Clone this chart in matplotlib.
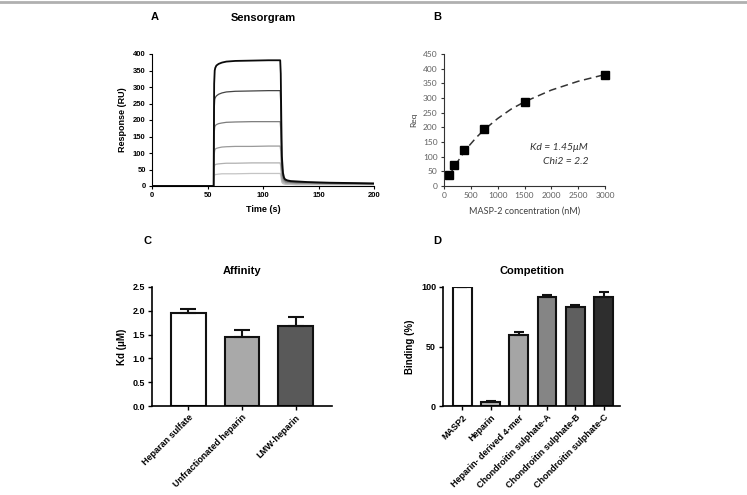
import matplotlib.pyplot as plt
from matplotlib.lines import Line2D

# panel A: sensorgram (read by eye)
time_s = [0, 55.5, 56, 56.5, 57, 58, 60, 63, 67, 75, 90, 105, 115.5, 116,
          116.5, 117, 118, 119, 120, 122, 125, 130, 140, 160, 180, 200]
resp_1 = [0, 0, 310, 350, 358, 365, 370, 374, 377, 379, 380, 381, 381, 340,
          200, 90, 40, 25, 20, 17, 15, 14, 12, 10, 9, 8]
resp_2 = [0, 0, 230, 262, 268, 273, 278, 282, 285, 287, 288, 289, 289, 250,
          150, 70, 32, 22, 18, 15, 13, 12, 11, 9, 8, 7]
resp_3 = [0, 0, 160, 178, 183, 186, 189, 191, 193, 194, 195, 195, 195, 170,
          100, 50, 25, 17, 14, 12, 11, 10, 9, 8, 7, 6]
resp_4 = [0, 0, 95, 108, 112, 114, 116, 118, 119, 120, 120, 121, 121, 105,
          60, 30, 17, 13, 11, 10, 9, 8, 8, 7, 6, 6]
resp_5 = [0, 0, 55, 63, 65, 66, 67, 68, 69, 69, 70, 70, 70, 60,
          35, 18, 11, 9, 8, 7, 7, 6, 6, 5, 5, 5]
resp_6 = [0, 0, 28, 33, 35, 35, 36, 37, 37, 37, 38, 38, 38, 32,
          20, 11, 7, 6, 5, 5, 5, 4, 4, 4, 4, 4]
curves = [resp_6, resp_5, resp_4, resp_3, resp_2, resp_1]
curve_colors = ['#c4c4c4', '#b0b0b0', '#9a9a9a', '#7c7c7c', '#444444', '#0a0a0a']

# panel B: equilibrium response
conc = [94, 188, 375, 750, 1500, 3000]
req = [38, 72, 122, 195, 288, 380]
fit_conc = [94, 200, 400, 600, 750, 1000, 1250, 1500, 2000, 2500, 3000]
fit_req = [34, 68, 123, 165, 192, 230, 262, 287, 327, 357, 380]

# panel C: affinity
aff_names = ['Heparan sulfate', 'Unfractionated heparin', 'LMW-heparin']
aff_kd = [1.95, 1.45, 1.68]
aff_err = [0.09, 0.14, 0.18]
aff_colors = ['white', '#a9a9a9', '#595959']

# panel D: competition
comp_names = ['MASP2', 'Heparin', 'Heparin- derived 4-mer',
              'Chondroitin sulphate-A', 'Chondroitin sulphate-B',
              'Chondroitin sulphate-C']
comp_val = [100, 3, 59.5, 92, 83, 91.5]
comp_err = [0, 1, 2.5, 1, 1.5, 4.5]
comp_colors = ['white', '#b5b5b5', '#a5a5a5', '#858585', '#5f5f5f', '#2e2e2e']

plt.rcParams['font.family'] = ['Liberation Sans', 'DejaVu Sans']
W, H = 747, 495
fig = plt.figure(figsize=(W / 100, H / 100), dpi=100)


def box(l, t, r, b):
    return [l / W, 1 - b / H, (r - l) / W, (b - t) / H]


fig.add_artist(Line2D([0, 1], [1 - 2 / H, 1 - 2 / H], color='#b0b0b0', lw=2))

# ---- A
axA = fig.add_axes(box(152, 54, 374, 186))
for y, c in zip(curves, curve_colors):
    axA.plot(time_s, y, color=c, lw=1.3 if c == '#0a0a0a' else 0.9)
axA.set_xlim(0, 200)
axA.set_ylim(0, 400)
axA.set_xticks([0, 50, 100, 150, 200])
axA.set_yticks(range(0, 401, 50))
axA.tick_params(labelsize=5.5, length=2.5, width=0.8, pad=2)
for lab in axA.get_xticklabels() + axA.get_yticklabels():
    lab.set_fontweight('bold')
axA.set_xlabel('Time (s)', fontsize=6.5, fontweight='bold', labelpad=4)
axA.set_ylabel('Response (RU)', fontsize=6.5, fontweight='bold', labelpad=4)
axA.set_title('Sensorgram', fontsize=8, fontweight='bold', pad=24)
for s in ['top', 'right']:
    axA.spines[s].set_visible(False)
for s in ['left', 'bottom']:
    axA.spines[s].set_linewidth(0.8)

# ---- B
axB = fig.add_axes(box(444, 54, 605, 186))
axB.plot(fit_conc, fit_req, color='#333333', lw=1.1, ls=(0, (5, 3)))
axB.plot(conc, req, 's', color='black', ms=5.5, clip_on=False)
axB.set_xlim(0, 3000)
axB.set_ylim(0, 450)
axB.set_xticks(range(0, 3001, 500))
axB.set_yticks(range(0, 451, 50))
axB.tick_params(labelsize=6, length=2.5, width=0.8, pad=2, labelcolor='#606060',
                color='#333333')
for lab in axB.get_xticklabels() + axB.get_yticklabels():
    lab.set_fontfamily('Lato')
axB.set_xlabel('MASP-2 concentration (nM)', fontsize=6.5, family='Lato',
               color='#404040', labelpad=5)
axB.set_ylabel('Req', fontsize=6, family='Lato', color='#404040', labelpad=4)
axB.text(0.895, 0.27, 'Kd = 1.45μM', transform=axB.transAxes, ha='right',
         fontsize=7.5, style='italic', family='Lato', color='#333333')
axB.text(0.895, 0.165, 'Chi2 = 2.2', transform=axB.transAxes, ha='right',
         fontsize=7.5, style='italic', family='Lato', color='#333333')
for s in ['top', 'right']:
    axB.spines[s].set_visible(False)
for s in ['left', 'bottom']:
    axB.spines[s].set_color('#333333')
    axB.spines[s].set_linewidth(0.8)

# ---- C
axC = fig.add_axes(box(152, 287, 332, 406))
xc = range(len(aff_names))
axC.bar(xc, aff_kd, width=0.65, color=aff_colors, edgecolor='#111111', lw=1.5,
        yerr=[[0] * 3, aff_err], capsize=5.5,
        error_kw=dict(ecolor='#111111', elinewidth=1.5, capthick=1.5))
axC.set_xlim(-0.68, 2.68)
axC.set_ylim(0, 2.5)
axC.set_yticks([0.0, 0.5, 1.0, 1.5, 2.0, 2.5])
axC.set_yticklabels(['0.0', '0.5', '1.0', '1.5', '2.0', '2.5'])
axC.set_xticks(list(xc))
axC.set_xticklabels(aff_names, rotation=45, ha='right', rotation_mode='anchor')
axC.tick_params(labelsize=6.5, length=3, width=1.0, pad=2)
for lab in axC.get_xticklabels() + axC.get_yticklabels():
    lab.set_fontweight('bold')
axC.set_ylabel('Kd (μM)', fontsize=7, fontweight='bold', labelpad=4)
axC.set_title('Affinity', fontsize=8, fontweight='bold', pad=9)
for s in ['top', 'right']:
    axC.spines[s].set_visible(False)
for s in ['left', 'bottom']:
    axC.spines[s].set_linewidth(1.2)

# ---- D
axD = fig.add_axes(box(443, 287, 620, 406))
xd = range(len(comp_names))
axD.bar(xd, comp_val, width=0.66, color=comp_colors, edgecolor='#111111',
        lw=1.5, yerr=[[0] * 6, comp_err], capsize=3.5,
        error_kw=dict(ecolor='#111111', elinewidth=1.5, capthick=1.5))
axD.set_xlim(-0.68, 5.58)
axD.set_ylim(0, 100)
axD.set_yticks([0, 50, 100])
axD.set_xticks(list(xd))
axD.set_xticklabels(comp_names, rotation=45, ha='right', rotation_mode='anchor')
axD.tick_params(labelsize=6.5, length=3, width=1.0, pad=2)
for lab in axD.get_xticklabels() + axD.get_yticklabels():
    lab.set_fontweight('bold')
axD.set_ylabel('Binding (%)', fontsize=7, fontweight='bold', labelpad=4)
axD.set_title('Competition', fontsize=8, fontweight='bold', pad=9)
for s in ['top', 'right']:
    axD.spines[s].set_visible(False)
for s in ['left', 'bottom']:
    axD.spines[s].set_linewidth(1.2)

# panel letters
for letter, (px, py) in zip('ABCD', [(155, 17), (437, 17), (147, 241), (437, 241)]):
    fig.text(px / W, 1 - py / H, letter, fontsize=8, fontweight='bold',
             ha='center', va='center')

fig.savefig('out.png', dpi=100)
